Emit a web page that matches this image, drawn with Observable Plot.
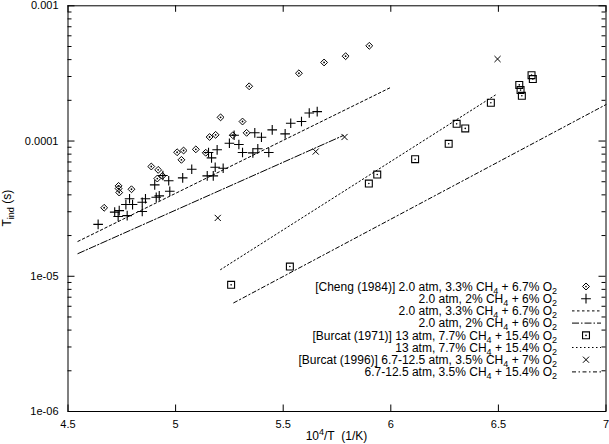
<!DOCTYPE html>
<html><head><meta charset="utf-8">
<script src="https://cdn.jsdelivr.net/npm/d3@7"></script>
<script src="https://cdn.jsdelivr.net/npm/@observablehq/plot@0.6"></script>
<style>
html,body{margin:0;padding:0;background:#fff;}
#chart svg{display:block;}
</style>
</head><body><div id="chart"></div>
<script>
// ---------- data (x = 10^4/T in 1/K, y = induction time in s) ----------
const chengA_x = [5.90,5.79,5.69,5.573,5.342,5.209,5.311,5.158,5.186,5.266,5.330,5.140,5.037,5.007,5.027,5.094,4.939,4.887,4.919,4.915,4.795,4.735,4.735,4.738,4.668];
const chengA_y = [5.06e-4,4.24e-4,3.81e-4,3.17e-4,2.54e-4,1.497e-4,1.394e-4,1.071e-4,1.111e-4,1.104e-4,1.150e-4,8.19e-5,8.51e-5,8.26e-5,7.26e-5,8.68e-5,5.53e-5,6.48e-5,6.12e-5,5.28e-5,4.40e-5,4.66e-5,4.45e-5,4.16e-5,3.21e-5];

const chengB_x = [4.640,4.717,4.738,4.733,4.775,4.769,4.800,4.786,4.845,4.845,4.860,4.903,4.910,4.924,4.941,4.968,4.973,5.033,5.075,5.147,5.175,5.184,5.221,5.167,5.153,5.193,5.250,5.294,5.311,5.359,5.382,5.433,5.272,5.368,5.399,5.449,5.509,5.535,5.585,5.621,5.658];
const chengB_y = [2.42e-5,2.98e-5,3.06e-5,2.77e-5,2.81e-5,3.39e-5,3.39e-5,3.74e-5,3.01e-5,3.53e-5,3.74e-5,4.74e-5,3.84e-5,3.93e-5,5.56e-5,5.08e-5,4.25e-5,5.34e-5,6.19e-5,5.53e-5,5.53e-5,6.40e-5,6.29e-5,7.51e-5,8.22e-5,8.61e-5,9.63e-5,9.42e-5,8.22e-5,8.18e-5,8.76e-5,8.22e-5,1.104e-4,1.150e-4,1.067e-4,1.21e-4,1.13e-4,1.354e-4,1.394e-4,1.61e-4,1.65e-4];

const burcat71_x = [6.654,6.660,6.597,6.603,6.609,6.465,6.306,6.346,6.269,6.113,5.937,5.898,5.531,5.258];
const burcat71_y = [3.07e-4,2.87e-4,2.60e-4,2.38e-4,2.16e-4,1.92e-4,1.34e-4,1.24e-4,9.54e-5,7.34e-5,5.65e-5,4.85e-5,1.18e-5,8.64e-6];

const burcat96_x = [6.496,5.785,5.651,5.196];
const burcat96_y = [4.04e-4,1.071e-4,8.36e-5,2.70e-5];

// model lines (end points)
const fitChengA_x = [4.546,5.995], fitChengA_y = [1.81e-5,2.47e-4];
const fitChengB_x = [4.546,5.780], fitChengB_y = [1.47e-5,1.10e-4];
const fitBurcat71_x = [5.209,6.494], fitBurcat71_y = [1.12e-5,2.23e-4];
const fitBurcat96_x = [5.270,7.000], fitBurcat96_y = [6.36e-6,1.86e-4];

// ticks
const xTickValues = [4.5,5,5.5,6,6.5,7];
const xTickLabels = ["4.5","5","5.5","6","6.5","7"];
const yTickValues = [1e-3,1e-4,1e-5,1e-6];
const yTickLabels = ["0.001","0.0001","1e-05","1e-06"];
const yMinorTicks = [2e-6,3e-6,4e-6,5e-6,6e-6,7e-6,8e-6,9e-6,2e-5,3e-5,4e-5,5e-5,6e-5,7e-5,8e-5,9e-5,2e-4,3e-4,4e-4,5e-4,6e-4,7e-4,8e-4,9e-4];

// legend
const legendLabels = [
  "[Cheng (1984)] 2.0 atm, 3.3% CH_4 + 6.7% O_2",
  "2.0 atm, 2% CH_4 + 6% O_2",
  "2.0 atm, 3.3% CH_4 + 6.7% O_2",
  "2.0 atm, 2% CH_4 + 6% O_2",
  "[Burcat (1971)] 13 atm, 7.7% CH_4 + 15.4% O_2",
  "13 atm, 7.7% CH_4 + 15.4% O_2",
  "[Burcat (1996)] 6.7-12.5 atm, 3.5% CH_4 + 7% O_2",
  "6.7-12.5 atm, 3.5% CH_4 + 15.4% O_2"
];
const xLabel = ["10", "4", "/T\u00a0\u00a0(1/K)"];
const yLabel = ["T", "ind", "\u00a0(s)"];

// ---------- build ----------
const zip = (xs, ys) => xs.map((x, i) => ({x, y: ys[i]}));
const chengA = zip(chengA_x, chengA_y);
const chengB = zip(chengB_x, chengB_y);
const burcat71 = zip(burcat71_x, burcat71_y);
const burcat96 = zip(burcat96_x, burcat96_y);

const dashA = "2.5,2.5", dashB = "7,2,1.5,2", dash71 = "1.5,2.5", dash96 = "4,2.5,1.5,2.5";

const W = 609, H = 444, mL = 67.5, mR = 3.5, mT = 5.3, mB = 33;
const fw = W - mL - mR, fh = H - mT - mB;
const FONT = "'Liberation Sans', Arial, Helvetica, sans-serif";

const plot = Plot.plot({
  width: W, height: H,
  marginLeft: mL, marginRight: mR, marginTop: mT, marginBottom: mB,
  style: {fontFamily: FONT, fontSize: "11px", background: "white", color: "black", overflow: "visible"},
  x: {domain: [4.5, 7], axis: null},
  y: {type: "log", domain: [1e-6, 1e-3], axis: null},
  marks: [
    Plot.frame({stroke: "black", strokeWidth: 1}),
    Plot.tickX(xTickValues, {x: d => d, insetTop: fh - 6.5, stroke: "black"}),
    Plot.tickX(xTickValues, {x: d => d, insetBottom: fh - 6.5, stroke: "black"}),
    Plot.tickY(yTickValues, {y: d => d, insetRight: fw - 7, stroke: "black"}),
    Plot.tickY(yTickValues, {y: d => d, insetLeft: fw - 7, stroke: "black"}),
    Plot.tickY(yMinorTicks, {y: d => d, insetRight: fw - 4, stroke: "black"}),
    Plot.tickY(yMinorTicks, {y: d => d, insetLeft: fw - 4, stroke: "black"}),
    Plot.axisX({ticks: xTickValues, tickFormat: d => xTickLabels[xTickValues.indexOf(d)], tickSize: 0, tickPadding: 9, label: null, fontSize: 11}),
    Plot.axisY({ticks: yTickValues, tickFormat: d => yTickLabels[yTickValues.indexOf(d)], tickSize: 0, tickPadding: 9.5, label: null, fontSize: 11}),
    Plot.line(zip(fitChengA_x, fitChengA_y), {x: "x", y: "y", stroke: "black", strokeWidth: 1, strokeDasharray: dashA}),
    Plot.line(zip(fitChengB_x, fitChengB_y), {x: "x", y: "y", stroke: "black", strokeWidth: 1, strokeDasharray: dashB}),
    Plot.line(zip(fitBurcat71_x, fitBurcat71_y), {x: "x", y: "y", stroke: "black", strokeWidth: 1, strokeDasharray: dash71}),
    Plot.line(zip(fitBurcat96_x, fitBurcat96_y), {x: "x", y: "y", stroke: "black", strokeWidth: 1, strokeDasharray: dash96}),
    Plot.dot(chengA, {x: "x", y: "y", symbol: "diamond2", r: 3.1, stroke: "black", strokeWidth: 1}),
    Plot.dot(chengA, {x: "x", y: "y", r: 0.9, fill: "black", stroke: null}),
    Plot.dot(chengB, {x: "x", y: "y", symbol: "plus", r: 3.2, stroke: "black", strokeWidth: 1.1}),
    Plot.dot(burcat71, {x: "x", y: "y", symbol: "square2", r: 4.4, stroke: "black", strokeWidth: 1.1}),
    Plot.dot(burcat71, {x: "x", y: "y", r: 0.8, fill: "black", stroke: null}),
    Plot.dot(burcat96, {x: "x", y: "y", symbol: "times", r: 2.9, stroke: "black", strokeWidth: 1})
  ]
});
document.getElementById("chart").appendChild(plot);

// ---------- text with subscripts and legend ----------
const svg = d3.select(plot);
function richText(sel, label, small) {
  const parts = label.split(/_(\d)/);
  let shift = 0;
  parts.forEach((p, i) => {
    if (!p) return;
    const ts = sel.append("tspan").text(p);
    if (i % 2 === 1) { ts.attr("dy", 3).attr("font-size", small); shift = -3; }
    else if (shift) { ts.attr("dy", shift); shift = 0; }
  });
}

const leg = svg.append("g").attr("font-family", FONT).attr("font-size", 12).attr("fill", "black");
const legendKinds = [
  {type: "symbol", sym: d3.symbolDiamond2, size: 31, dot: true},
  {type: "symbol", sym: d3.symbolPlus, size: 33, sw: 1.1},
  {type: "line", dash: dashA},
  {type: "line", dash: dashB},
  {type: "symbol", sym: d3.symbolSquare2, size: 61, dot: true, sw: 1.1},
  {type: "line", dash: dash71},
  {type: "symbol", sym: d3.symbolTimes, size: 26},
  {type: "line", dash: dash96}
];
legendLabels.forEach((lab, i) => {
  const cy = 286.5 + 12.2 * i;
  const t = leg.append("text").attr("x", 557).attr("y", cy + 4.2).attr("text-anchor", "end");
  richText(t, lab, 9);
  const k = legendKinds[i];
  if (k.type === "symbol") {
    leg.append("path").attr("transform", `translate(586,${cy})`)
      .attr("d", d3.symbol(k.sym, k.size)()).attr("fill", "none").attr("stroke", "black").attr("stroke-width", k.sw || 1);
    if (k.dot) leg.append("circle").attr("cx", 586).attr("cy", cy).attr("r", 0.85).attr("fill", "black");
  } else {
    leg.append("line").attr("x1", 572).attr("x2", 601).attr("y1", cy).attr("y2", cy)
      .attr("stroke", "black").attr("stroke-width", 1).attr("stroke-dasharray", k.dash);
  }
});

// x axis label
const xl = svg.append("text").attr("x", mL + fw / 2).attr("y", 440).attr("text-anchor", "middle")
  .attr("font-family", FONT).attr("font-size", 12).attr("fill", "black");
xl.append("tspan").text(xLabel[0]);
xl.append("tspan").attr("dy", -5).attr("font-size", 9).text(xLabel[1]);
xl.append("tspan").attr("dy", 5).text(xLabel[2]);

// y axis label
const yl = svg.append("text").attr("transform", `translate(11,${mT + fh / 2}) rotate(-90)`).attr("text-anchor", "middle")
  .attr("font-family", FONT).attr("font-size", 12).attr("fill", "black");
yl.append("tspan").text(yLabel[0]);
yl.append("tspan").attr("dy", 3).attr("font-size", 9).text(yLabel[1]);
yl.append("tspan").attr("dy", -3).text(yLabel[2]);
</script>
</body></html>
